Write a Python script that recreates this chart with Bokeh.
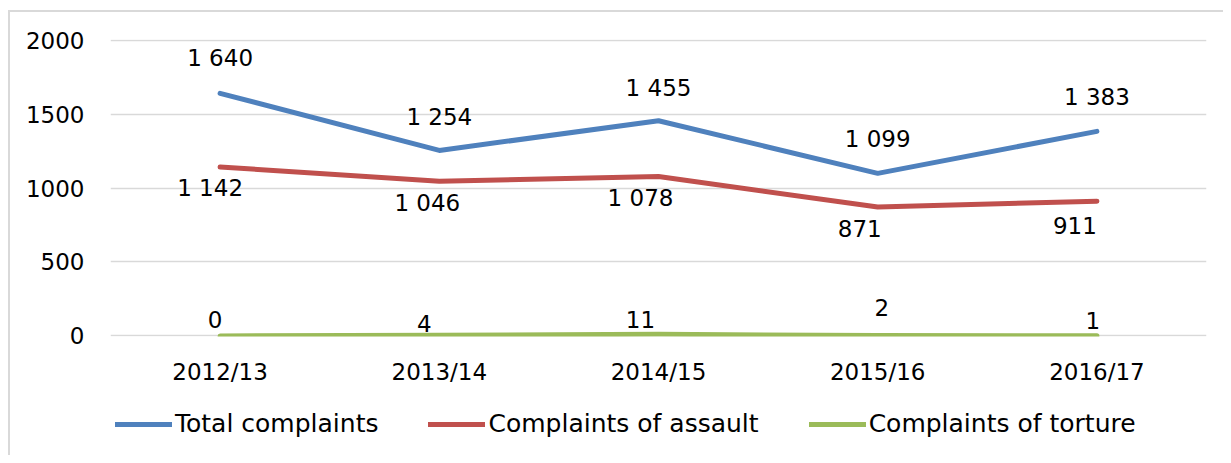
from bokeh.plotting import figure
from bokeh.layouts import column
from bokeh.models import Legend, LegendItem, ColumnDataSource, Range1d, FixedTicker
from bokeh.core.properties import value
from bokeh.embed import file_html
from bokeh.resources import INLINE

years = ["2012/13", "2013/14", "2014/15", "2015/16", "2016/17"]
total = [1640, 1254, 1455, 1099, 1383]
assault = [1142, 1046, 1078, 871, 911]
torture = [0, 4, 11, 2, 1]
y_ticks = [0, 500, 1000, 1500, 2000]
series_names = ["Total complaints", "Complaints of assault", "Complaints of torture"]

# label placement styling (screen px offsets, positive dy = down)
total_dx = [0, 0, 0, 0, 0]
total_dy = [-35, -33, -33, -34, -34]
assault_dx = [-10, -12, -18, -18, -22]
assault_dy = [21, 22, 22, 21, 24]
torture_dx = [-5, -15, -18, 4, -4]
torture_dy = [-16, -12, -15, -28, -15]

FONT = "DejaVu Sans"
FS = "23px"
LFS = "25px"
colors = ["#4F81BD", "#C0504D", "#9BBB59"]
W = 1213


def fmt(v):
    return f"{v:,}".replace(",", " ")


p = figure(x_range=years, y_range=Range1d(-4, 2004), width=W, height=383,
           output_backend="svg", toolbar_location=None,
           min_border_left=100, min_border_right=17, min_border_top=27,
           min_border_bottom=59)
p.outline_line_color = None
p.xgrid.grid_line_color = None
p.ygrid.grid_line_color = "#d9d9d9"
p.ygrid.grid_line_width = 1.3

p.yaxis.ticker = FixedTicker(ticks=y_ticks)
for ax in (p.xaxis[0], p.yaxis[0]):
    ax.axis_line_color = None
    ax.major_tick_line_color = None
    ax.minor_tick_line_color = None
    ax.major_label_text_font = FONT
    ax.major_label_text_font_size = FS
    ax.major_label_text_color = "#000000"
p.yaxis.major_label_standoff = 20
p.xaxis.major_label_standoff = 16

for vals, col, dx, dy in ((total, colors[0], total_dx, total_dy),
                          (assault, colors[1], assault_dx, assault_dy),
                          (torture, colors[2], torture_dx, torture_dy)):
    src = ColumnDataSource(dict(x=years, y=vals, lab=[fmt(v) for v in vals], dx=dx, dy=dy))
    p.line("x", "y", source=src, line_color=col, line_width=5, line_cap="round", line_join="round")
    p.text("x", "y", text="lab", source=src, x_offset="dx", y_offset="dy",
           text_align="center", text_baseline="middle",
           text_font=value(FONT), text_font_size=FS, text_color="#000000")

# legend strip below the chart (sample lines sit outside its visible range)
lg = figure(width=W, height=60, output_backend="svg", toolbar_location=None,
            x_range=Range1d(0, 1), y_range=Range1d(0, 1),
            min_border_left=0, min_border_right=0, min_border_top=0, min_border_bottom=0)
lg.axis.visible = False
lg.grid.grid_line_color = None
lg.outline_line_color = None
leg_renderers = [lg.line(x=[-5, -4], y=[-5, -5], line_color=c, line_width=5, line_cap="round")
                 for c in colors]
legend = Legend(items=[LegendItem(label=n, renderers=[r]) for n, r in zip(series_names, leg_renderers)],
                orientation="horizontal", location=(5, 17),
                glyph_width=57, glyph_height=24, label_standoff=3, spacing=50,
                border_line_color=None, background_fill_alpha=0,
                label_text_font=FONT, label_text_font_size=LFS, label_text_color="#000000",
                padding=0, margin=0)
lg.add_layout(legend, "center")

layout = column(p, lg, spacing=0)
layout.styles = {"border-left": "2px solid #d9d9d9", "border-top": "2px solid #d9d9d9",
                 "margin-left": "8px", "margin-top": "10px"}
open("out.html", "w").write(file_html(layout, INLINE))
